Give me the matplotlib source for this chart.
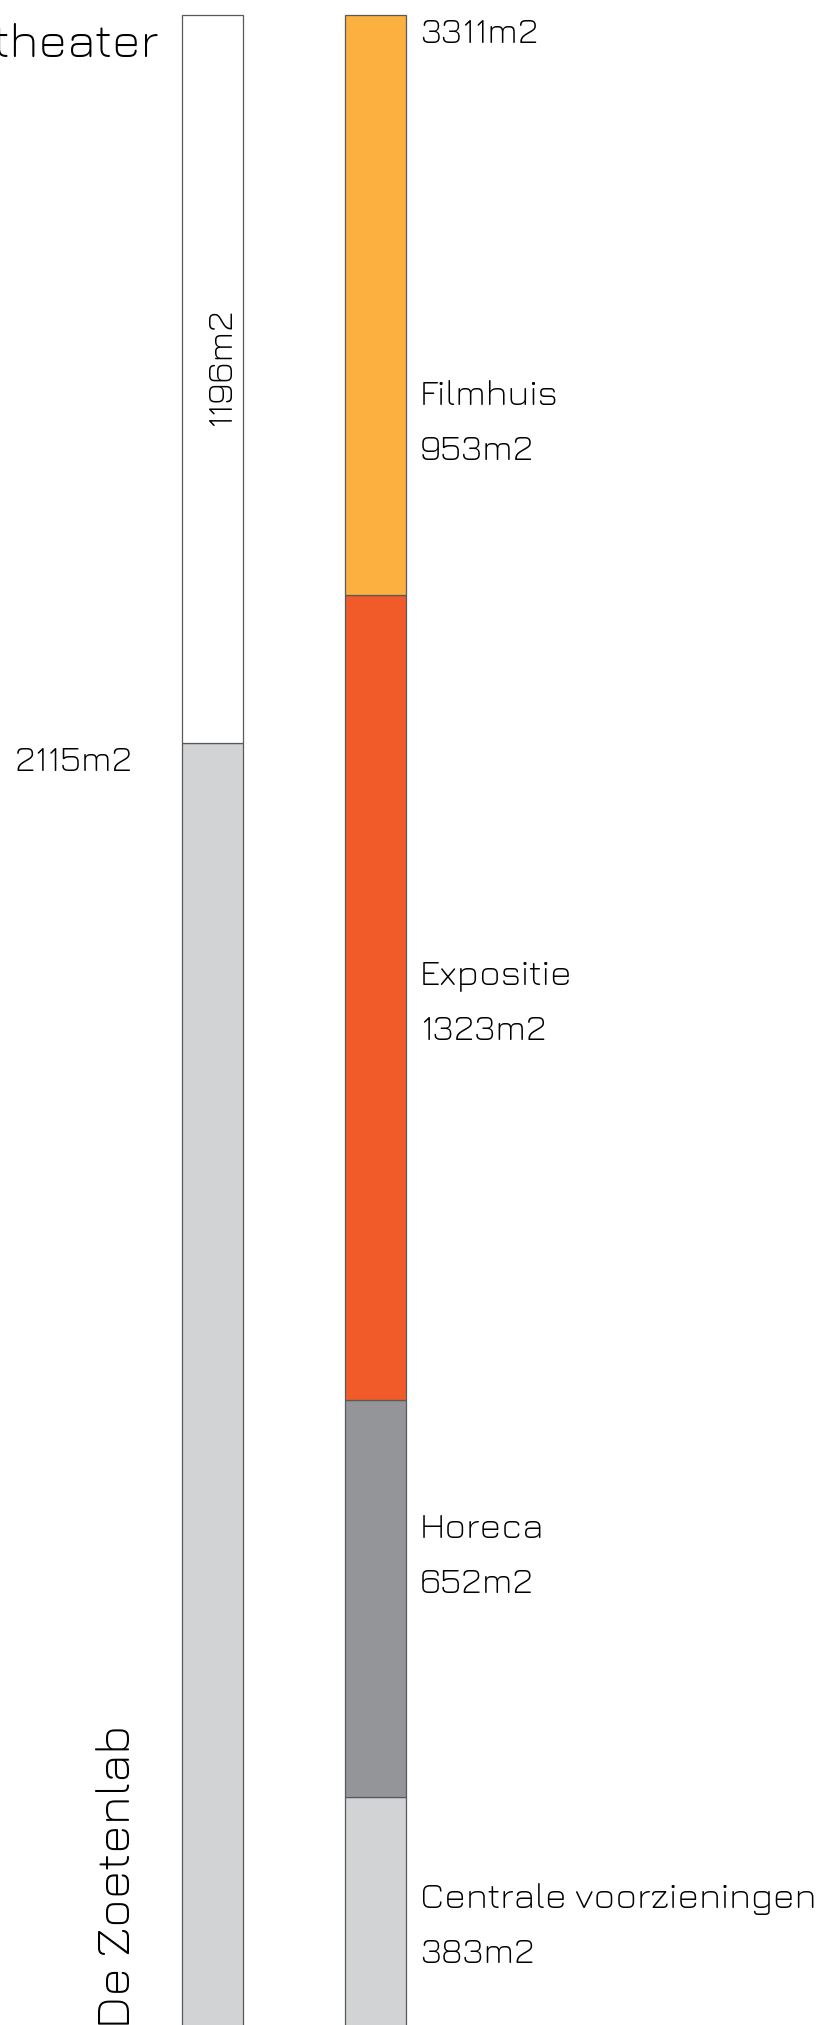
import matplotlib
matplotlib.use("Agg")
import matplotlib.pyplot as plt
import numpy as np

FONT = ["Jura", "DejaVu Sans"]
plt.rcParams["font.family"] = FONT
plt.rcParams["font.weight"] = "medium"

# Left column: existing building, listed top to bottom
left_names = ["theater", "De Zoetenlab"]
left_values = [1196, 2115]
left_colors = ["#FFFFFF", "#D1D3D4"]

# Right column: programme, listed top to bottom
right_names = ["Filmhuis", "Expositie", "Horeca", "Centrale voorzieningen"]
right_values = [953, 1323, 652, 383]
right_colors = ["#FBB040", "#F15A29", "#939598", "#D1D3D4"]

unit = "m2"
EDGE = "#58595B"

fig = plt.figure(figsize=(8.32, 20.25), dpi=100)
ax = fig.add_axes([0, 0, 1, 1])
ax.set_xlim(0, 832)
ax.set_ylim(9, 3335.6)
ax.axis("off")

LEFT_X, RIGHT_X, BAR_W = 212.5, 375.0, 61.0


def stack(x, values, colors):
    """Draw a column stacked from the bottom; values are given top to bottom."""
    vals = np.array(values[::-1], dtype=float)
    bottoms = np.concatenate([[0], np.cumsum(vals)[:-1]])
    for v, b, c in zip(vals, bottoms, colors[::-1]):
        ax.bar(x, v, bottom=b, width=BAR_W, color=c, edgecolor=EDGE, linewidth=0.9)
    return bottoms[::-1]


left_bottoms = stack(LEFT_X, left_values, left_colors)
right_bottoms = stack(RIGHT_X, right_values, right_colors)

LABEL_SIZE = 26.5
TITLE_SIZE = 35
CAP = 46  # cap height of the label font, in data units

# Totals
right_total = sum(right_values)
ax.text(420, right_total - CAP, f"{right_total}{unit}", ha="left", va="baseline",
        fontsize=LABEL_SIZE, color="black")
ax.text(133, left_bottoms[0] - CAP, f"{left_values[1]}{unit}", ha="right", va="baseline",
        fontsize=LABEL_SIZE, color="black")

# Left column labels
white_mid = left_bottoms[0] + left_values[0] / 2
ax.text(230, white_mid + 20, f"{left_values[0]}{unit}", rotation=90, rotation_mode="anchor",
        ha="center", va="baseline", fontsize=LABEL_SIZE, color="black")
ax.text(158, 3242, left_names[0], ha="right", va="baseline", fontsize=TITLE_SIZE, color="black")
ax.text(130, 502, left_names[1], rotation=90, rotation_mode="anchor",
        ha="right", va="baseline", fontsize=TITLE_SIZE, color="black")

# Right column labels (name line and area line)
name_baselines = [2670, 1717.5, 809, 201]
for name, val, yb in zip(right_names, right_values, name_baselines):
    ax.text(420, yb, name, ha="left", va="baseline", fontsize=LABEL_SIZE, color="black")
    ax.text(420, yb - 90, f"{val}{unit}", ha="left", va="baseline", fontsize=LABEL_SIZE, color="black")

fig.savefig("out.png", dpi=100, facecolor="white")
